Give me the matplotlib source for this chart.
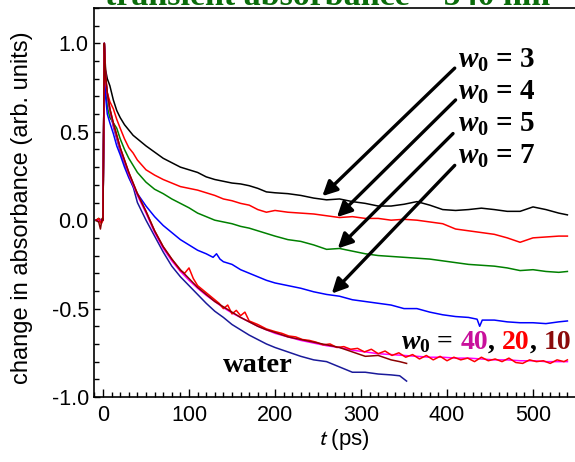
import matplotlib
matplotlib.use("Agg")
import matplotlib.pyplot as plt
from matplotlib.ticker import MultipleLocator

plt.rcParams['font.family'] = ['Liberation Sans', 'DejaVu Sans']
plt.rcParams['mathtext.fontset'] = 'custom'
plt.rcParams['mathtext.it'] = 'Liberation Serif:italic:bold'
plt.rcParams['mathtext.rm'] = 'Liberation Serif:bold'
plt.rcParams['mathtext.bf'] = 'Liberation Serif:bold'

# ---------------- data ----------------
t_main = [-8, -5, -2, 0, 1.5, 3, 5, 8, 12, 16, 20, 25, 30, 35, 40, 50, 60, 70, 80, 90,
          100, 110, 120, 130, 140, 150, 160, 170, 180, 190, 200, 215, 230, 245, 260,
          275, 290, 305, 320, 335, 350, 365, 380, 395, 410, 425, 440, 455, 470, 485,
          500, 515, 530, 540]

w3 = [0.0, -0.01, 0.0, 0.0, 1.0, 0.85, 0.80, 0.76, 0.68, 0.62, 0.58, 0.54, 0.51, 0.48,
      0.46, 0.42, 0.385, 0.35, 0.325, 0.30, 0.285, 0.27, 0.245, 0.23, 0.22, 0.21, 0.205,
      0.195, 0.18, 0.16, 0.155, 0.15, 0.14, 0.125, 0.115, 0.12, 0.105, 0.095, 0.08, 0.08,
      0.09, 0.105, 0.085, 0.06, 0.055, 0.06, 0.068, 0.06, 0.05, 0.05, 0.075, 0.06, 0.04,
      0.03]

w4 = [0.0, 0.0, -0.01, 0.0, 1.0, 0.82, 0.72, 0.67, 0.63, 0.57, 0.52, 0.46, 0.41, 0.38,
      0.34, 0.285, 0.255, 0.23, 0.21, 0.19, 0.18, 0.17, 0.155, 0.14, 0.12, 0.11, 0.095,
      0.085, 0.06, 0.045, 0.055, 0.045, 0.04, 0.035, 0.025, 0.015, 0.02, 0.01, 0.01, 0.0,
      0.005, 0.0, -0.01, -0.02, -0.05, -0.06, -0.07, -0.08, -0.10, -0.125, -0.10, -0.095,
      -0.09, -0.09]

w5 = [0.0, 0.01, 0.0, 0.0, 1.0, 0.75, 0.64, 0.58, 0.55, 0.52, 0.46, 0.40, 0.35, 0.31,
      0.27, 0.215, 0.175, 0.15, 0.12, 0.095, 0.07, 0.04, 0.02, 0.0, -0.01, -0.02, -0.035,
      -0.045, -0.06, -0.075, -0.09, -0.11, -0.12, -0.14, -0.165, -0.16, -0.175, -0.19,
      -0.20, -0.205, -0.21, -0.215, -0.22, -0.23, -0.24, -0.25, -0.255, -0.26, -0.27,
      -0.285, -0.28, -0.29, -0.295, -0.29]

t7 = [-8, -5, -2, 0, 1.5, 3, 5, 8, 12, 16, 20, 25, 30, 35, 40, 50, 60, 70, 80, 90, 100,
      110, 120, 128, 132, 136, 140, 150, 160, 170, 180, 190, 200, 215, 230, 245, 260, 275,
      290, 305, 320, 335, 350, 365, 380, 395, 410, 425, 435, 438, 441, 455, 470, 485, 500,
      515, 530, 540]
w7 = [0.0, 0.0, 0.0, 0.0, 1.0, 0.70, 0.60, 0.55, 0.49, 0.42, 0.37, 0.30, 0.24, 0.19,
      0.15, 0.08, 0.02, -0.03, -0.07, -0.11, -0.14, -0.17, -0.19, -0.21, -0.19, -0.22,
      -0.235, -0.25, -0.28, -0.30, -0.32, -0.34, -0.355, -0.37, -0.385, -0.405, -0.42,
      -0.43, -0.45, -0.46, -0.47, -0.48, -0.50, -0.50, -0.52, -0.535, -0.545, -0.55,
      -0.56, -0.60, -0.565, -0.565, -0.575, -0.58, -0.58, -0.585, -0.575, -0.57]

t_water = [-8, -5, -2, 0, 1.5, 3, 5, 8, 12, 16, 20, 25, 30, 35, 40, 50, 60, 70, 80, 90,
           100, 110, 120, 130, 140, 150, 160, 170, 180, 190, 200, 215, 230, 245, 260, 275,
           290, 305, 320, 335, 345, 353]
water = [0.0, 0.0, 0.0, 0.0, 1.0, 0.80, 0.70, 0.62, 0.53, 0.46, 0.39, 0.32, 0.25, 0.19,
         0.10, 0.0, -0.09, -0.18, -0.26, -0.32, -0.37, -0.42, -0.47, -0.515, -0.55, -0.59,
         -0.62, -0.65, -0.675, -0.70, -0.72, -0.745, -0.77, -0.79, -0.80, -0.83, -0.86,
         -0.86, -0.87, -0.875, -0.88, -0.91]

w40 = [0.0, 0.0, 0.0, 0.0, 1.0, 0.80, 0.71, 0.62, 0.54, 0.47, 0.40, 0.33, 0.26, 0.20,
       0.14, 0.04, -0.07, -0.16, -0.23, -0.29, -0.34, -0.385, -0.425, -0.46, -0.495,
       -0.525, -0.55, -0.575, -0.60, -0.62, -0.64, -0.66, -0.68, -0.695, -0.71, -0.72,
       -0.735, -0.745, -0.755, -0.76, -0.765, -0.77, -0.775, -0.775, -0.78, -0.78, -0.785,
       -0.79, -0.79, -0.795, -0.795, -0.80, -0.80, -0.80]

t20 = [-8, -5, -2, 0, 1.5, 3, 5, 8, 12, 16, 20, 25, 30, 35, 40, 50, 60, 70, 80, 90, 95,
       100, 105, 110, 120, 130, 135, 140, 145, 150, 155, 160, 165, 170, 180, 190, 200, 208,
       216, 224, 232, 240, 248, 256, 264, 272, 280, 288, 296, 304, 312, 320, 328, 336, 344,
       352, 360, 368, 376, 384, 392, 400, 408, 416, 424, 432, 440, 448, 456, 464, 472, 480,
       488, 496, 504, 512, 520, 528, 536, 540]
w20 = [0.0, 0.01, -0.02, 0.0, 1.0, 0.80, 0.72, 0.63, 0.55, 0.48, 0.41, 0.34, 0.27, 0.21,
       0.15, 0.05, -0.06, -0.15, -0.22, -0.285, -0.30, -0.27, -0.33, -0.37, -0.41, -0.45,
       -0.47, -0.50, -0.48, -0.53, -0.51, -0.54, -0.52, -0.57, -0.59, -0.615, -0.63, -0.64,
       -0.655, -0.66, -0.675, -0.68, -0.69, -0.705, -0.70, -0.72, -0.715, -0.73, -0.725,
       -0.745, -0.73, -0.755, -0.74, -0.765, -0.75, -0.775, -0.76, -0.785, -0.765, -0.79,
       -0.77, -0.795, -0.775, -0.79, -0.78, -0.80, -0.775, -0.795, -0.785, -0.80, -0.78,
       -0.805, -0.81, -0.79, -0.80, -0.795, -0.81, -0.79, -0.80, -0.79]

t10 = [-8, -5, -3, -1, 0, 1.5, 3, 5, 8, 12, 16, 20, 25, 30, 35, 40, 50, 60, 70, 80, 90,
       100, 110, 120, 130, 140, 150, 160, 170, 180, 190, 200, 215, 230, 245, 260, 275, 290,
       305, 320, 335, 345, 353]
w10 = [0.0, -0.01, -0.05, 0.01, 0.0, 1.0, 0.82, 0.72, 0.63, 0.55, 0.48, 0.41, 0.34, 0.27,
       0.21, 0.15, 0.05, -0.06, -0.15, -0.22, -0.28, -0.33, -0.38, -0.42, -0.46, -0.49,
       -0.52, -0.55, -0.575, -0.60, -0.62, -0.635, -0.66, -0.675, -0.69, -0.705, -0.72,
       -0.745, -0.77, -0.765, -0.79, -0.80, -0.81]

x_ticks = [0, 100, 200, 300, 400, 500]
y_ticks = [-1.0, -0.5, 0.0, 0.5, 1.0]

labels_upper = ['3', '4', '5', '7']
label_pos = [(413, 0.86), (413, 0.68), (413, 0.50), (413, 0.32)]
arrow_tail = [(409, 0.86), (410, 0.68), (407, 0.49), (409, 0.31)]
arrow_head = [(255, 0.136), (272, 0.017), (273, -0.16), (266, -0.415)]

# ---------------- figure ----------------
fig = plt.figure(figsize=(5.75, 4.62), dpi=100)
ax = fig.add_axes([94.4 / 575, 1 - 397 / 462, (576 - 94.4) / 575, (397 - 8) / 462])

lw = 1.1
ax.plot(t_main, w3, color='black', lw=lw)
ax.plot(t_main, w4, color='#ff0000', lw=lw)
ax.plot(t_main, w5, color='#008000', lw=lw)
ax.plot(t7, w7, color='#0000ff', lw=lw)
ax.plot(t_water, water, color='#1a1a9a', lw=lw)
ax.plot(t_main, w40, color='#ff00ff', lw=lw)
ax.plot(t20, w20, color='#ff0000', lw=lw)
ax.plot(t10, w10, color='#8b0000', lw=lw)

ax.set_xlim(-10, 550)
ax.set_ylim(-1.0, 1.2)
ax.set_xticks(x_ticks)
ax.set_yticks(y_ticks)
ax.set_yticklabels([f'{v:.1f}' for v in y_ticks])
ax.xaxis.set_minor_locator(MultipleLocator(10))
ax.yaxis.set_minor_locator(MultipleLocator(0.1))
ax.tick_params(which='both', direction='in', top=False, right=False, width=1.0,
               labelsize=15.5)
ax.tick_params(axis='x', which='major', length=6, pad=6)
ax.tick_params(axis='x', which='minor', length=3.5)
ax.tick_params(axis='y', which='major', length=4, pad=4)
ax.tick_params(axis='y', which='minor', length=3.5)
for s in ['left', 'bottom', 'top']:
    ax.spines[s].set_linewidth(1.2)
ax.spines['right'].set_visible(False)

# axis labels
fig.text(22 / 575, 1 - 208 / 462, 'change in absorbance (arb. units)', rotation=90,
         ha='center', va='center', fontsize=17)
fig.text(344 / 575, 1 - 440 / 462, r'$t$ (ps)', ha='center', va='center', fontsize=16,
         math_fontfamily='stixsans')

# title (partly cut off at the top, as in the original)
fig.text(327.5 / 575, 1 - 5 / 462, 'transient absorbance – 540 nm', ha='center',
         va='baseline', color='#0b6b0b', fontsize=24.5, weight='bold',
         family='Liberation Serif')

# w0 labels and arrows
for lab, (lx, ly), tail, head in zip(labels_upper, label_pos, arrow_tail, arrow_head):
    ax.text(lx, ly, r'$w_0$ = %s' % lab, fontsize=21, va='baseline', ha='left',
            color='black', family='Liberation Serif', weight='bold')
    ax.annotate('', xy=head, xytext=tail,
                arrowprops=dict(arrowstyle='-|>', lw=2.4, color='black',
                                mutation_scale=22, shrinkA=0, shrinkB=0))

ax.text(139.5, -0.86, 'water', fontsize=20.5, weight='bold', family='Liberation Serif',
        va='baseline', ha='left')

base_y = -0.727
t0 = ax.text(347, base_y, r'$w_0$ =', fontsize=20, va='baseline', ha='left',
             family='Liberation Serif', weight='bold')
parts = [('40', '#c8109b', 5), (',', 'black', 0), ('20', '#ff0000', 5),
         (',', 'black', 0), ('10', '#8b0a0a', 5)]
prev = t0
for txt, col, gap in parts:
    prev = ax.annotate(txt, xy=(1, base_y), xycoords=(prev, 'data'),
                       xytext=(gap, 0), textcoords='offset points', va='baseline',
                       ha='left', fontsize=20, color=col, family='Liberation Serif',
                       weight='bold')

fig.savefig('out.png', dpi=100)
